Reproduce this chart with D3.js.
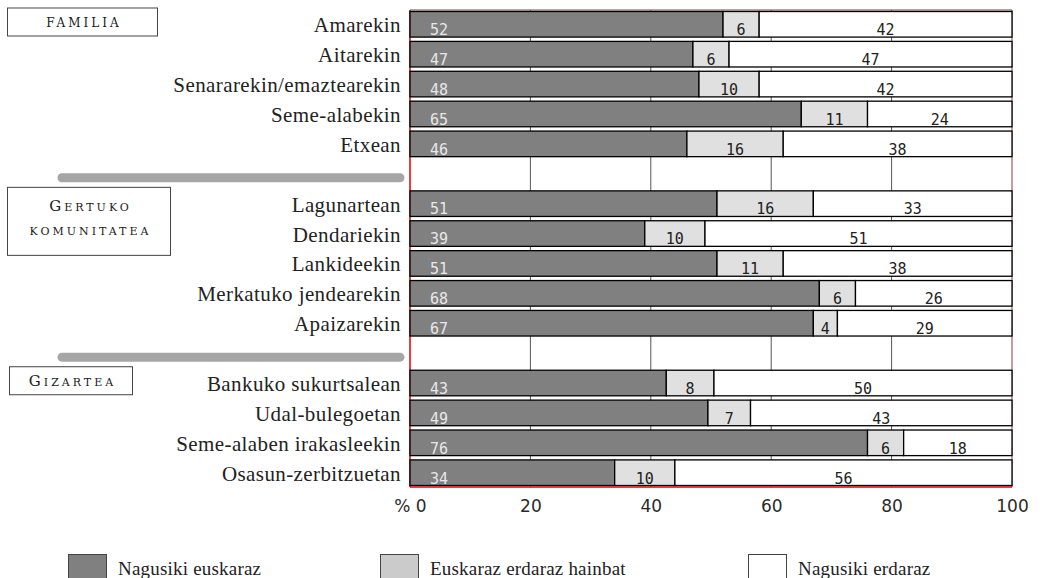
<!DOCTYPE html>
<html>
<head>
<meta charset="utf-8">
<script src="https://cdn.jsdelivr.net/npm/d3@7"></script>
<style>
  body { margin: 0; background: #fff; }
  svg { display: block; }
</style>
</head>
<body>
<div id="chart"></div>
<script>
// Categories, grouped in three blocks
const groupNames = [["FAMILIA"], ["GERTUKO", "KOMUNITATEA"], ["GIZARTEA"]];
const groupSizes = [5, 5, 4];
const categories = [
    "Amarekin", "Aitarekin", "Senararekin/emaztearekin", "Seme-alabekin", "Etxean",
    "Lagunartean", "Dendariekin", "Lankideekin", "Merkatuko jendearekin", "Apaizarekin",
    "Bankuko sukurtsalean", "Udal-bulegoetan", "Seme-alaben irakasleekin", "Osasun-zerbitzuetan"
];
// Series values (%)
const euskaraz = [52, 47, 48, 65, 46, 51, 39, 51, 68, 67, 43, 49, 76, 34];
const biak     = [ 6,  6, 10, 11, 16, 16, 10, 11,  6,  4,  8,  7,  6, 10];
const erdaraz  = [42, 47, 42, 24, 38, 33, 51, 38, 26, 29, 50, 43, 18, 56];
const seriesNames = ["Nagusiki euskaraz", "Euskaraz erdaraz hainbat", "Nagusiki erdaraz"];
const xTicks = [0, 20, 40, 60, 80, 100];

const width = 1043, height = 578;
const plotTop = 10, plotBottom = 487, plotLeft = 410, plotRight = 1012;
const barColors = ["#808080", "#e0e0e0", "#ffffff"];
const legendColors = ["#808080", "#cbcbcb", "#ffffff"];
const keys = ["euskaraz", "biak", "erdaraz"];

const rows = categories.map((c, i) => ({
    cat: c, euskaraz: euskaraz[i], biak: biak[i], erdaraz: erdaraz[i]
}));

// y domain with spacer rows between the groups
const domain = [];
let start = 0;
groupSizes.forEach((n, g) => {
    categories.slice(start, start + n).forEach(c => domain.push(c));
    if (g < groupSizes.length - 1) domain.push("__gap" + g);
    start += n;
});

const svg = d3.select("#chart").append("svg")
    .attr("width", width)
    .attr("height", height);

const x = d3.scaleLinear().domain([0, 100]).range([plotLeft, plotRight]);
const y = d3.scaleBand().domain(domain).range([plotTop, plotBottom])
    .paddingInner(0.144).paddingOuter(0.05);

// Grid lines
svg.append("g").selectAll("line")
    .data(xTicks.filter(t => t > 0 && t < 100))
    .enter().append("line")
    .attr("x1", d => x(d)).attr("x2", d => x(d))
    .attr("y1", plotTop).attr("y2", plotBottom)
    .attr("stroke", "#555").attr("stroke-width", 1);

// Frame
svg.append("line").attr("x1", x(0)).attr("x2", x(100)).attr("y1", plotTop).attr("y2", plotTop)
    .attr("stroke", "#6b4a4a").attr("stroke-width", 1);
svg.append("line").attr("x1", x(100)).attr("x2", x(100)).attr("y1", plotTop).attr("y2", plotBottom)
    .attr("stroke", "#8a3a3a").attr("stroke-width", 1);
svg.append("line").attr("x1", x(0)).attr("x2", x(0)).attr("y1", plotTop).attr("y2", plotBottom)
    .attr("stroke", "#e00000").attr("stroke-width", 1.5);

// Stacked, normalized to 100
const stacked = d3.stack().keys(keys).offset(d3.stackOffsetExpand)(rows);

const layer = svg.append("g").selectAll("g")
    .data(stacked)
    .enter().append("g")
    .attr("fill", (d, i) => barColors[i]);

layer.selectAll("rect")
    .data(d => d)
    .enter().append("rect")
    .attr("x", d => x(d[0] * 100))
    .attr("y", d => y(d.data.cat))
    .attr("width", d => x(d[1] * 100) - x(d[0] * 100))
    .attr("height", y.bandwidth())
    .attr("stroke", "#000")
    .attr("stroke-width", 1.3);

// Value labels
stacked.forEach((s, i) => {
    svg.append("g").selectAll("text")
        .data(s)
        .enter().append("text")
        .attr("x", d => i === 0 ? x(0) + 20 : (x(d[0] * 100) + x(d[1] * 100)) / 2)
        .attr("y", d => y(d.data.cat) + y.bandwidth() - 2)
        .attr("text-anchor", i === 0 ? "start" : "middle")
        .attr("font-family", "DejaVu Sans Mono")
        .attr("font-size", "15px")
        .attr("fill", i === 0 ? "#e8e8e8" : "#222")
        .text(d => d.data[s.key]);
});

// Bottom line
svg.append("line").attr("x1", x(0)).attr("x2", x(100)).attr("y1", plotBottom).attr("y2", plotBottom)
    .attr("stroke", "#e00000").attr("stroke-width", 1.5);

// Category labels
svg.append("g").selectAll("text")
    .data(categories)
    .enter().append("text")
    .attr("x", 401)
    .attr("y", d => y(d) + y.bandwidth() / 2 + 8)
    .attr("text-anchor", "end")
    .attr("font-family", "Liberation Serif")
    .attr("font-size", "21px")
    .attr("letter-spacing", "0.4px")
    .attr("fill", "#222")
    .text(d => d);

// Gray separator bars in the spacer rows
svg.append("g").selectAll("line")
    .data(domain.filter(d => d.startsWith("__gap")))
    .enter().append("line")
    .attr("x1", 62).attr("x2", 400)
    .attr("y1", d => y(d) + y.bandwidth() / 2 + 4)
    .attr("y2", d => y(d) + y.bandwidth() / 2 + 4)
    .attr("stroke", "#a6a6a6")
    .attr("stroke-width", 9)
    .attr("stroke-linecap", "round");

// Group boxes
const boxWidths = [150, 163, 123];
const boxX = [7, 7, 9];
start = 0;
groupNames.forEach((lines, g) => {
    const top = y(categories[start]) - 4;
    const h = lines.length > 1 ? 68 : 28;
    svg.append("rect")
        .attr("x", boxX[g] + 0.5).attr("y", top + 0.5)
        .attr("width", boxWidths[g]).attr("height", h)
        .attr("fill", "#fff").attr("stroke", "#444").attr("stroke-width", 1);
    lines.forEach((line, j) => {
        const t = svg.append("text")
            .attr("x", boxX[g] + boxWidths[g] / 2 + 2)
            .attr("y", top + 20 + j * 24 + (lines.length > 1 ? 4 : 0))
            .attr("text-anchor", "middle")
            .attr("font-family", "DejaVu Serif")
            .attr("letter-spacing", "3px")
            .attr("fill", "#1a1a1a");
        const big = (line === "GERTUKO" || line === "GIZARTEA");
        const small = line === "FAMILIA" ? "12px" : "11px";
        t.append("tspan").attr("font-size", big ? "15px" : small).text(line[0]);
        t.append("tspan").attr("font-size", small).text(line.slice(1));
    });
    start += groupSizes[g];
});

// X axis
const axis = svg.append("g")
    .attr("transform", `translate(0,${plotBottom})`)
    .call(d3.axisBottom(x).tickValues(xTicks).tickSize(0).tickFormat(d => d === 0 ? "% 0" : d));
axis.select(".domain").remove();
axis.selectAll("text")
    .attr("y", 25)
    .attr("dy", 0)
    .attr("font-family", "DejaVu Sans")
    .attr("font-size", "17px")
    .attr("fill", "#2a2a2a");

// Legend
const legendX = [68, 380, 748];
const legend = svg.append("g").selectAll("g")
    .data(seriesNames)
    .enter().append("g")
    .attr("transform", (d, i) => `translate(${legendX[i]},554)`);
legend.append("rect")
    .attr("x", 0.5).attr("y", 0.5)
    .attr("width", 38).attr("height", 26)
    .attr("fill", (d, i) => legendColors[i])
    .attr("stroke", "#444");
legend.append("text")
    .attr("x", 50).attr("y", 21)
    .attr("font-family", "Liberation Serif")
    .attr("font-size", "19px")
    .attr("letter-spacing", "0.2px")
    .attr("fill", "#222")
    .text(d => d);
</script>
</body>
</html>
